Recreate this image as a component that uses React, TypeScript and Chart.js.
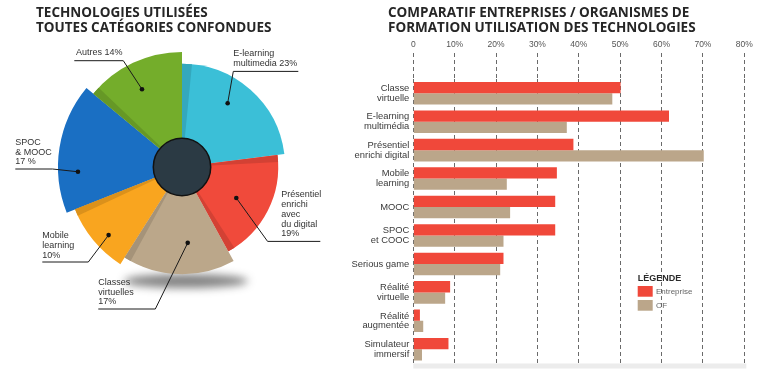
import { useEffect, useRef } from 'react';
import { Chart, registerables } from 'chart.js';

Chart.register(...registerables);

// ---------- Pie data ----------
const pieLabels = ['E-learning multimedia', 'Présentiel enrichi avec du digital', 'Classes virtuelles', 'Mobile learning', 'SPOC & MOOC', 'Autres'];
const pieShares = [23, 19, 17, 10, 17, 14];
const pieReach = [104, 97, 108, 116, 125, 116];
const pieColors = ['#3bbfd7', '#f04a3b', '#bba78a', '#f9a51f', '#1a6fc3', '#74ad2b'];

// ---------- Bar data ----------
const barCategories = [
  ['Classe', 'virtuelle'],
  ['E-learning', 'multimédia'],
  ['Présentiel', 'enrichi digital'],
  ['Mobile', 'learning'],
  'MOOC',
  ['SPOC', 'et COOC'],
  'Serious game',
  ['Réalité', 'virtuelle'],
  ['Réalité', 'augmentée'],
  ['Simulateur', 'immersif'],
];
const entrepriseValues = [50.1, 61.8, 38.7, 34.7, 34.3, 34.3, 21.8, 8.9, 1.6, 8.5];
const ofValues = [48.1, 37.1, 70.2, 22.6, 23.4, 21.8, 21.0, 7.7, 2.4, 2.1];
const xTickLabels = ['0', '10%', '20%', '30%', '40%', '50%', '60%', '70%', '80%'];

const SANS = '"Liberation Sans", Arial, sans-serif';
const TITLE_FONT = { family: '"Open Sans", sans-serif', weight: 'bold' as const, size: 13.5, lineHeight: 1.141 };

function darken(hex: string, f: number) {
  const n = parseInt(hex.slice(1), 16);
  const r = Math.round(((n >> 16) & 255) * f);
  const g = Math.round(((n >> 8) & 255) * f);
  const b = Math.round((n & 255) * f);
  return `rgb(${r},${g},${b})`;
}

// shading on [start edge, end edge] in px at the rim
const pieShadePx = [[10, 0], [7, 7], [0, 7], [0, 7], [0, 0], [8, 0]];

// annotation layout relative to pie centre
const pieNotes = [
  { lines: ['E-learning', `multimedia ${pieShares[0]}%`], tx: 51.3, ty: -113.3, uy: -95.6, ux1: 51.3, ux2: 116.3, joinLeft: true, af: 0.43, rf: 0.76 },
  { lines: ['Présentiel', 'enrichi', 'avec', 'du digital', `${pieShares[1]}%`], tx: 99.3, ty: 27.7, uy: 74.4, ux1: 85.6, ux2: 138.3, joinLeft: true, af: 0.54, rf: 0.65 },
  { lines: ['Classes', 'virtuelles', `${pieShares[2]}%`], tx: -83.7, ty: 115.4, uy: 142, ux1: -83.7, ux2: -26.7, joinLeft: false, af: 0.4, rf: 0.71 },
  { lines: ['Mobile', 'learning', `${pieShares[3]}%`], tx: -139.7, ty: 68.7, uy: 95, ux1: -139.7, ux2: -93.7, joinLeft: false, af: 0.41, rf: 0.87 },
  { lines: ['SPOC', '& MOOC', `${pieShares[4]} %`], tx: -166.7, ty: -24.6, uy: 2, ux1: -166.7, ux2: -129.4, joinLeft: false, af: 0.31, rf: 0.84 },
  { lines: [`Autres ${pieShares[5]}%`], tx: -106, ty: -114.3, uy: -106.3, ux1: -107.7, ux2: -58.7, joinLeft: false, af: 0.46, rf: 0.76 },
];

const pieDecor = {
  id: 'pieDecor',
  beforeDatasetsDraw(chart: any) {
    const s = chart.scales.r;
    const cx = s.xCenter, cy = s.yCenter;
    const ctx = chart.ctx;
    ctx.save();
    ctx.filter = 'blur(4px)';
    ctx.fillStyle = 'rgba(30,30,30,0.55)';
    ctx.beginPath();
    ctx.ellipse(cx + 4, cy + 114, 62, 7, 0, 0, Math.PI * 2);
    ctx.fill();
    ctx.restore();
  },
  afterDatasetsDraw(chart: any) {
    const ctx = chart.ctx;
    const meta = chart.getDatasetMeta(0);
    const s = chart.scales.r;
    const cx = s.xCenter, cy = s.yCenter;
    ctx.save();
    meta.data.forEach((arc: any, i: number) => {
      const { startAngle, endAngle, outerRadius } = arc;
      const [a, b] = pieShadePx[i];
      ctx.fillStyle = darken(pieColors[i], 0.88);
      if (a > 0) {
        ctx.beginPath();
        ctx.moveTo(arc.x, arc.y);
        ctx.arc(arc.x, arc.y, outerRadius, startAngle, startAngle + a / outerRadius);
        ctx.closePath();
        ctx.fill();
      }
      if (b > 0) {
        ctx.beginPath();
        ctx.moveTo(arc.x, arc.y);
        ctx.arc(arc.x, arc.y, outerRadius, endAngle - b / outerRadius, endAngle);
        ctx.closePath();
        ctx.fill();
      }
    });
    ctx.beginPath();
    ctx.arc(cx, cy, 28.7, 0, Math.PI * 2);
    ctx.fillStyle = '#2b3a44';
    ctx.fill();
    ctx.lineWidth = 1.5;
    ctx.strokeStyle = '#111';
    ctx.stroke();
    ctx.font = `9px ${SANS}`;
    ctx.textBaseline = 'middle';
    ctx.textAlign = 'left';
    pieNotes.forEach((n, i) => {
      const arc = meta.data[i];
      const ang = arc.startAngle + (arc.endAngle - arc.startAngle) * n.af;
      const r = arc.outerRadius * n.rf;
      const dx = cx + r * Math.cos(ang);
      const dy = cy + r * Math.sin(ang);
      ctx.fillStyle = '#333';
      n.lines.forEach((t, k) => ctx.fillText(t, cx + n.tx, cy + n.ty + k * 9.8));
      ctx.strokeStyle = '#1a1a1a';
      ctx.lineWidth = 1;
      ctx.beginPath();
      ctx.moveTo(cx + n.ux1, cy + n.uy);
      ctx.lineTo(cx + n.ux2, cy + n.uy);
      ctx.stroke();
      const jx = cx + (n.joinLeft ? n.ux1 : n.ux2);
      ctx.beginPath();
      ctx.moveTo(jx, cy + n.uy);
      ctx.lineTo(dx, dy);
      ctx.stroke();
      ctx.beginPath();
      ctx.arc(dx, dy, 2.3, 0, Math.PI * 2);
      ctx.fillStyle = '#111';
      ctx.fill();
    });
    ctx.restore();
  },
};

const barExtras = {
  id: 'barExtras',
  afterDraw(chart: any) {
    const ctx = chart.ctx;
    const ca = chart.chartArea;
    ctx.save();
    ctx.fillStyle = '#ececec';
    ctx.fillRect(ca.left, ca.bottom, ca.right - ca.left + 2, 5);
    const lx = ca.left + 224.4;
    ctx.textBaseline = 'middle';
    ctx.textAlign = 'left';
    ctx.fillStyle = '#2b2b2b';
    ctx.font = `bold 9px ${SANS}`;
    ctx.fillText('LÉGENDE', lx, ca.top + 199.3);
    chart.data.datasets.forEach((ds: any, i: number) => {
      const top = ca.top + 207 + i * 14;
      ctx.fillStyle = ds.backgroundColor;
      ctx.fillRect(lx, top, 15, 10.7);
      ctx.fillStyle = '#666';
      ctx.font = `8px ${SANS}`;
      ctx.fillText(ds.label, lx + 18.3, top + 5.6);
    });
    ctx.restore();
  },
};

export default function App() {
  const pieRef = useRef<HTMLCanvasElement>(null);
  const barRef = useRef<HTMLCanvasElement>(null);

  useEffect(() => {
    const pie = new Chart(pieRef.current!, {
      type: 'polarArea',
      data: {
        labels: pieLabels,
        datasets: [
          {
            data: pieReach,
            backgroundColor: pieColors,
            borderWidth: 0,
            angle: (c: any) => pieShares[c.dataIndex] * 3.6,
          } as any,
        ],
      },
      options: {
        animation: false,
        responsive: false,
        layout: { padding: { left: 36, right: 10.6, top: 0, bottom: 84.7 } },
        plugins: {
          legend: { display: false },
          tooltip: { enabled: false },
          title: {
            display: true,
            text: ['TECHNOLOGIES UTILISÉES', 'TOUTES CATÉGORIES CONFONDUES'],
            align: 'start',
            color: '#262626',
            font: TITLE_FONT,
            padding: { top: 5, bottom: 5.5 },
          },
        },
        scales: { r: { display: false, min: 0, max: 126 } },
      } as any,
      plugins: [pieDecor],
    });

    const bar = new Chart(barRef.current!, {
      type: 'bar',
      data: {
        labels: barCategories,
        datasets: [
          { label: 'Entreprise', data: entrepriseValues, backgroundColor: '#f0483a', barPercentage: 1, categoryPercentage: 0.794 },
          { label: 'OF', data: ofValues, backgroundColor: '#bba68a', barPercentage: 1, categoryPercentage: 0.794 },
        ],
      },
      options: {
        indexAxis: 'y',
        animation: false,
        responsive: false,
        layout: { padding: { left: 48, right: 20.7, top: 0, bottom: 14.5 } },
        plugins: {
          legend: { display: false },
          tooltip: { enabled: false },
          title: {
            display: true,
            text: ['COMPARATIF ENTREPRISES / ORGANISMES DE', 'FORMATION UTILISATION DES TECHNOLOGIES'],
            align: 'start',
            color: '#262626',
            font: TITLE_FONT,
            padding: { top: 5, bottom: 0 },
          },
        },
        scales: {
          x: {
            position: 'top',
            min: 0,
            max: 80,
            ticks: {
              stepSize: 10,
              padding: 3.5,
              color: '#555',
              font: { family: SANS, size: 8.5 },
              callback: (_v: any, i: number) => xTickLabels[i],
            },
            grid: {
              color: '#6a6a6a',
              lineWidth: 1,
              tickLength: 26,
              tickColor: '#6a6a6a',
              tickBorderDash: [4, 3],
            },
            border: { display: false, dash: [4, 3] },
          },
          y: {
            grid: { display: false, drawTicks: false },
            border: { display: false },
            ticks: { color: '#3a3a3a', font: { family: SANS, size: 9.4, lineHeight: 1.02 }, padding: 4 },
            afterFit: (sc: any) => {
              sc.width = 25.3;
              // let the category labels extend left of the narrow axis box
              sc._computeLabelArea = () => undefined;
            },
          },
        },
      } as any,
      plugins: [barExtras],
    });

    return () => {
      pie.destroy();
      bar.destroy();
    };
  }, []);

  return (
    <div style={{ position: 'fixed', left: 0, top: 0, width: 765, height: 378, background: '#fff' }}>
      <canvas ref={pieRef} width={340} height={378} style={{ position: 'absolute', left: 0, top: 0 }} />
      <canvas ref={barRef} width={425} height={378} style={{ position: 'absolute', left: 340, top: 0 }} />
    </div>
  );
}
